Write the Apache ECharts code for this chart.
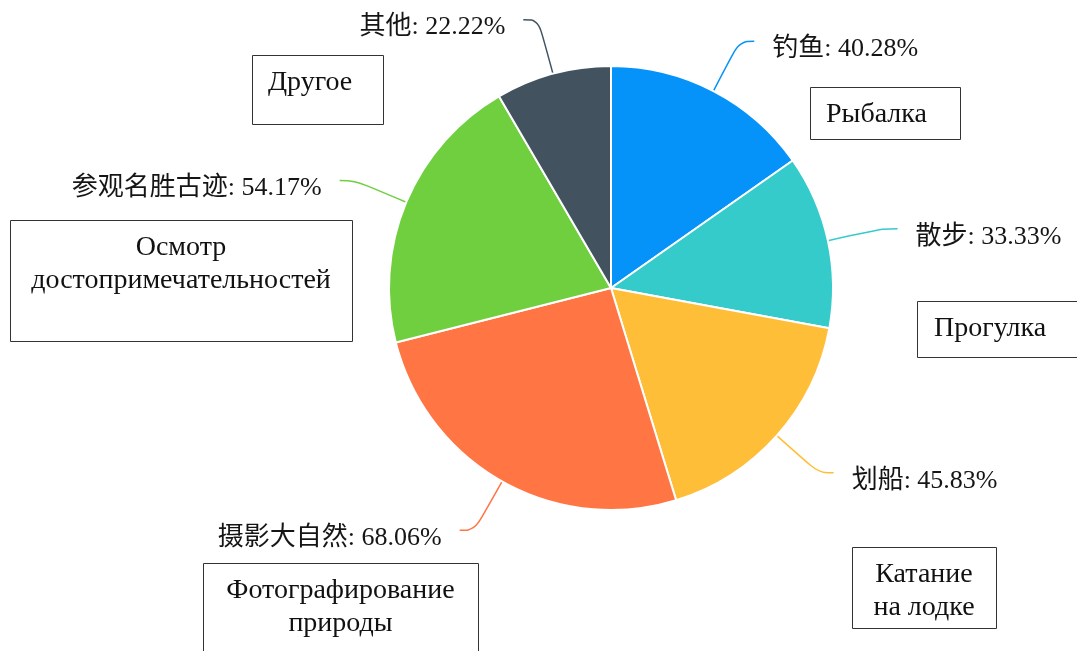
<!DOCTYPE html>
<html>
<head>
<meta charset="utf-8">
<script src="https://cdn.jsdelivr.net/npm/echarts@6/dist/echarts.min.js"></script>
<style>html,body{margin:0;padding:0;background:#fff;}#c{width:1077px;height:651px;}</style>
</head>
<body>
<div id="c"></div>
<script>
// ---- data ----
const categories = ['钓鱼', '散步', '划船', '摄影大自然', '参观名胜古迹', '其他'];
const percents = [40.28, 33.33, 45.83, 68.06, 54.17, 22.22];
const translations = ['Рыбалка', 'Прогулка', 'Катание\nна лодке', 'Фотографирование\nприроды', 'Осмотр\nдостопримечательностей', 'Другое'];

// ---- styles / layout ----
const colors = ['#0593FA', '#36CBCB', '#FFBE37', '#FF7644', '#6FCF3F', '#42535F'];
const boxLayout = [
  {x: 810, y: 87, w: 150, h: 52, align: 'left', tx: 826},
  {x: 917, y: 301, w: 170, h: 56, align: 'left', tx: 934},
  {x: 852, y: 547, w: 144, h: 81, align: 'center'},
  {x: 203, y: 563, w: 275, h: 100, align: 'center'},
  {x: 10, y: 220, w: 342, h: 121, align: 'center'},
  {x: 252, y: 55, w: 131, h: 69, align: 'left', tx: 268}
];
const serif = "'Liberation Serif', 'Noto Sans CJK SC', serif";

const graphics = translations.map((t, i) => {
  const b = boxLayout[i];
  const lh = 33;
  return {
    type: 'group',
    children: [
      {type: 'rect', shape: {x: b.x + 0.5, y: b.y + 0.5, width: b.w, height: b.h},
       style: {fill: '#fff', stroke: '#333', lineWidth: 1}},
      {type: 'text', x: b.align === 'center' ? b.x + b.w / 2 : b.tx, y: b.y + 11,
       style: {text: t, font: "28px " + serif, fill: '#111', textAlign: b.align,
               textVerticalAlign: 'top', lineHeight: lh}}
    ]
  };
});

const chart = echarts.init(document.getElementById('c'));
chart.setOption({
  backgroundColor: '#fff',
  animation: false,
  color: colors,
  series: [{
    type: 'pie',
    center: [611, 288],
    radius: 222,
    startAngle: 90,
    clockwise: true,
    avoidLabelOverlap: false,
    itemStyle: {borderColor: '#fff', borderWidth: 2},
    label: {
      show: true,
      position: 'outside',
      formatter: '{b}: {c}%',
      fontFamily: serif,
      fontSize: 26,
      color: '#151515',
      offset: [0, 8],
      distanceToLabelLine: 18
    },
    labelLine: {show: true, length: 56, length2: 15, smooth: 0.4, lineStyle: {width: 1.5}},
    data: categories.map((c, i) => ({name: c, value: percents[i]}))
  }],
  graphic: graphics
});
</script>
</body>
</html>
